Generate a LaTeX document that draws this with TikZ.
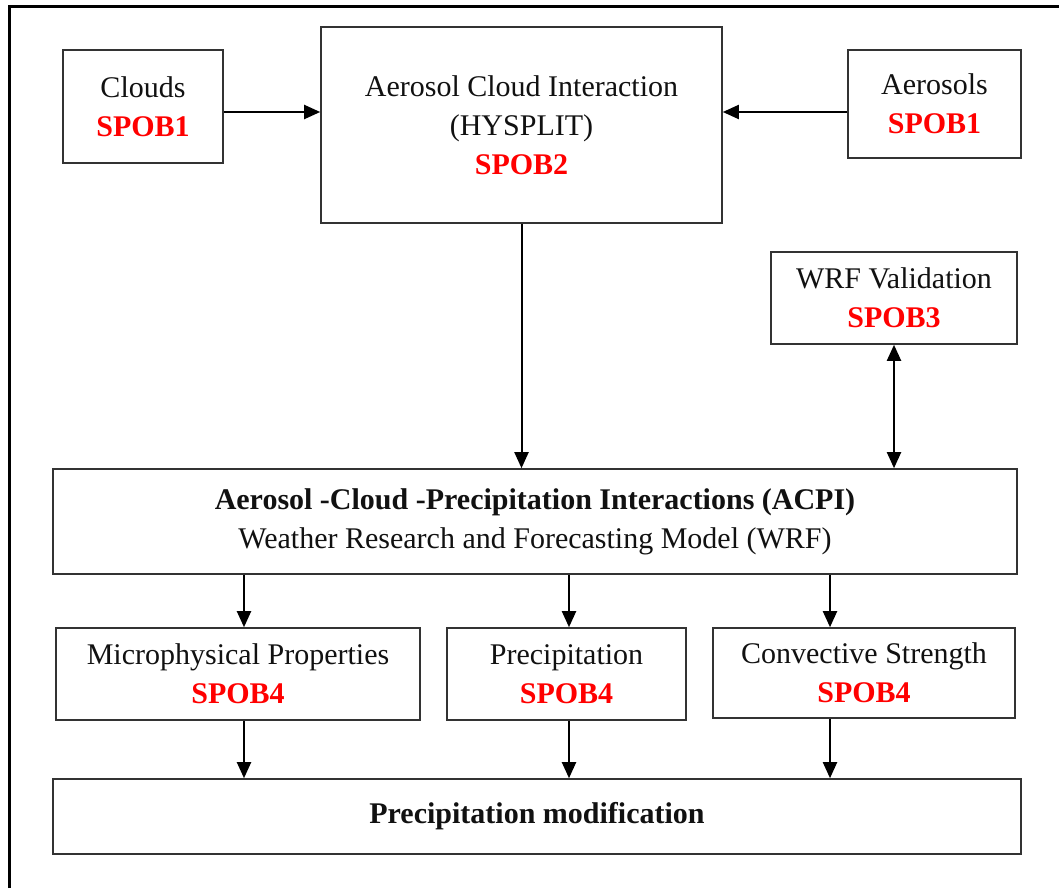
\documentclass[tikz,border=0pt]{standalone}
\usepackage{fontspec}
\setmainfont{Liberation Serif}
\usetikzlibrary{arrows.meta,calc,positioning}
\definecolor{acink}{HTML}{111111}
\definecolor{acline}{HTML}{333333}
\definecolor{acred}{HTML}{FF0000}
\tikzset{
  ac text/.style={font=\fontsize{15}{19.5}\selectfont, text=acink},
  ac node/.style={draw=acline, line width=0.8pt, fill=white, align=center,
    inner sep=0pt, font=\fontsize{15}{19.5}\selectfont},
  ac arrow/.style={-{Triangle[length=8pt,width=7pt]}, line width=1pt, draw=black},
  ac both/.style={{Triangle[length=8pt,width=7pt]}-{Triangle[length=8pt,width=7pt]},
    line width=1pt, draw=black},
  ac frame/.style={draw=black, line width=1.5pt}
}
\newcommand{\spobtag}[1]{\textcolor{acred}{\textbf{SPOB#1}}}

\begin{document}
\begin{tikzpicture}[ac text, x=0.5pt, y=-0.5pt]
  \useasboundingbox (0,0) rectangle (1059,888);
  \draw[ac frame] (9,888) -- (9,7) -- (1059,7);
  % top row
  \node[ac node, minimum width=80pt, minimum height=56.5pt] (clouds) at (143,106.5) {Clouds\\\spobtag{1}};
  \node[ac node, minimum width=200.5pt, minimum height=98pt] (aci) at (521.5,125) {Aerosol Cloud Interaction\\(HYSPLIT)\\\spobtag{2}};
  \node[ac node, minimum width=86.5pt, minimum height=54pt] (aerosols) at (934.5,104) {Aerosols\\\spobtag{1}};
  \node[ac node, minimum width=123pt, minimum height=46pt] (wrfval) at (894,298) {WRF Validation\\\spobtag{3}};
  % model
  \node[ac node, minimum width=482pt, minimum height=52.5pt] (acpi) at (535,521.5) {\textbf{Aerosol -Cloud -Precipitation Interactions (ACPI)}\\Weather Research and Forecasting Model (WRF)};
  % outputs
  \node[ac node, minimum width=182pt, minimum height=46pt] (micro) at (238,674) {Microphysical Properties\\\spobtag{4}};
  \node[ac node, minimum width=119.5pt, minimum height=46pt] (precip) at (566.5,674) {Precipitation\\\spobtag{4}};
  \node[ac node, minimum width=151pt, minimum height=45pt] (conv) at (864,673) {Convective Strength\\\spobtag{4}};
  \node[ac node, minimum width=484pt, minimum height=37.5pt] (precmod) at (537,816.5) {\textbf{Precipitation modification}};
  \coordinate (row1) at (0,112);
  \coordinate (col1) at (244,0);
  \coordinate (col2) at (569,0);
  \coordinate (col3) at (830,0);
  \draw[ac arrow] (clouds.east |- row1) -- (aci.west |- row1);
  \draw[ac arrow] (aerosols.west |- row1) -- (aci.east |- row1);
  \draw[ac arrow] (aci.south) -- (aci.south |- acpi.north);
  \draw[ac both] (wrfval.south) -- (wrfval.south |- acpi.north);
  \draw[ac arrow] (acpi.south -| col1) -- (micro.north -| col1);
  \draw[ac arrow] (acpi.south -| col2) -- (precip.north -| col2);
  \draw[ac arrow] (acpi.south -| col3) -- (conv.north -| col3);
  \draw[ac arrow] (micro.south -| col1) -- (precmod.north -| col1);
  \draw[ac arrow] (precip.south -| col2) -- (precmod.north -| col2);
  \draw[ac arrow] (conv.south -| col3) -- (precmod.north -| col3);
\end{tikzpicture}
\end{document}
